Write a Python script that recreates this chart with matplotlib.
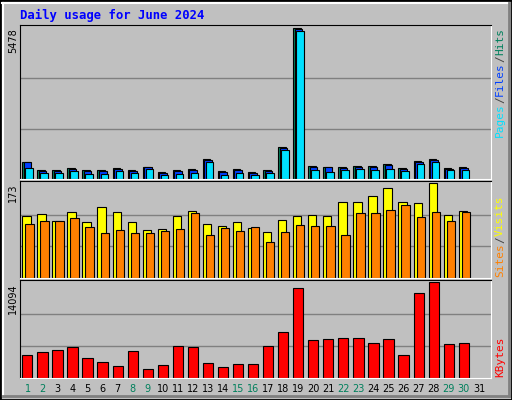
import numpy as np
import matplotlib.pyplot as plt
from matplotlib.patches import Rectangle

days = list(range(1, 31))
hits = [620, 310, 310, 397, 310, 310, 397, 310, 434, 248, 310, 360, 732, 285, 360,
        248, 322, 1178, 5478, 471, 434, 434, 471, 471, 546, 397, 657, 732, 397, 434]
files = [620, 285, 297, 372, 285, 297, 372, 285, 422, 223, 285, 335, 707, 260, 335,
         223, 297, 1141, 5441, 434, 422, 397, 434, 434, 496, 360, 620, 694, 360, 409]
pages = [397, 223, 223, 285, 198, 198, 273, 223, 372, 161, 198, 223, 633, 161, 223,
         161, 223, 1054, 5366, 322, 260, 310, 347, 322, 347, 285, 533, 607, 310, 310]
visits = [113, 116, 103, 120, 101, 130, 120, 101, 87, 89, 113, 122, 98, 94, 101,
          91, 83, 105, 113, 115, 113, 139, 139, 150, 164, 139, 136, 173, 115, 122]
sites = [98, 103, 103, 109, 92, 81, 87, 81, 81, 85, 89, 118, 79, 91, 85,
         92, 66, 83, 96, 94, 94, 79, 118, 118, 124, 133, 111, 120, 103, 120]
kbytes = [3447, 3755, 4064, 4527, 2984, 2366, 1749, 3909, 1286, 1903, 4681, 4527, 2212, 1595, 2057,
          2057, 4681, 6687, 13169, 5607, 5761, 5916, 5916, 5144, 5761, 3447, 12397, 14094, 4990, 5144]
weekends = [1, 2, 8, 9, 15, 16, 22, 23, 29, 30]

BG = '#C0C0C0'
W, H = 512, 400
fig = plt.figure(figsize=(5.12, 4.0), dpi=100, facecolor=BG)

def fx(x): return x / W
def fy(y): return 1 - y / H

# 3d border
fig.patches.append(Rectangle((0, 0), 1, 1, transform=fig.transFigure, fill=False, ec='black', lw=2))
fig.add_artist(plt.Line2D([fx(2), fx(509)], [fy(3), fy(3)], color='white', lw=1.5, transform=fig.transFigure))
fig.add_artist(plt.Line2D([fx(3), fx(3)], [fy(3), fy(396)], color='white', lw=1.5, transform=fig.transFigure))
fig.add_artist(plt.Line2D([fx(3), fx(509)], [fy(396), fy(396)], color='#808080', lw=2, transform=fig.transFigure))
fig.add_artist(plt.Line2D([fx(509), fx(509)], [fy(3), fy(396)], color='#808080', lw=2, transform=fig.transFigure))

mono = 'DejaVu Sans Mono'
fig.text(fx(20), fy(15), 'Daily usage for June 2024', color='#0000FF', fontsize=8.8,
         fontweight='bold', family=mono, va='center')

def panel(top, bottom, vmax):
    ax = fig.add_axes([fx(20), fy(bottom), fx(491) - fx(20), fy(top) - fy(bottom)])
    ax.set_facecolor(BG)
    ax.set_xlim(0, 31.3)
    ax.set_ylim(0, vmax * 1.02)
    for g in (vmax / 3, vmax * 2 / 3):
        ax.axhline(g, color='#808080', lw=1, zorder=0)
    ax.set_xticks([])
    ax.set_yticks([])
    for s in ax.spines.values():
        s.set_color('black')
    ax.spines['bottom'].set_color('white')
    ax.spines['right'].set_color('white')
    fig.text(fx(13), fy(top + 3), str(vmax), rotation=90, fontsize=7, family='DejaVu Sans',
             va='top', ha='center')
    return ax

x = np.array(days) - 1

ax1 = panel(25, 179, max(hits))
kw = dict(align='edge', ec='black', lw=0.8)
ax1.bar(x + 0.15, hits, 0.5, color='#00805C', **kw)
ax1.bar(x + 0.25, files, 0.5, color='#0040FF', **kw)
ax1.bar(x + 0.35, pages, 0.5, color='#00E0FF', **kw)

ax2 = panel(181, 278, max(visits))
ax2.bar(x + 0.15, visits, 0.55, color='#FFFF00', **kw)
ax2.bar(x + 0.35, sites, 0.55, color='#FF8000', **kw)

ax3 = panel(280, 378, max(kbytes))
ax3.bar(x + 0.15, kbytes, 0.68, color='#FF0000', **kw)

for d in range(1, 32):
    c = '#00805C' if d in weekends else 'black'
    fig.text(fx(20 + (d - 0.5) * 471 / 31.3), fy(389), str(d), color=c, fontsize=7,
             ha='center', va='center', family='DejaVu Sans')

def side(pieces):
    for txt, ybot, col in pieces:
        fig.text(fx(500), fy(ybot), txt, rotation=90, color=col, fontsize=8,
                 family=mono, ha='center', va='bottom')

side([('Pages', 137, '#00E0FF'), ('/', 103, '#404040'), ('Files', 96, '#0040FF'),
      ('/', 62, '#404040'), ('Hits', 55, '#00805C')])
side([('Sites', 277, '#FF8000'), ('/', 243, '#404040'), ('Visits', 236, '#FFFF00')])
side([('KBytes', 377, '#FF0000')])

fig.savefig('out.png', dpi=100, facecolor=BG)
